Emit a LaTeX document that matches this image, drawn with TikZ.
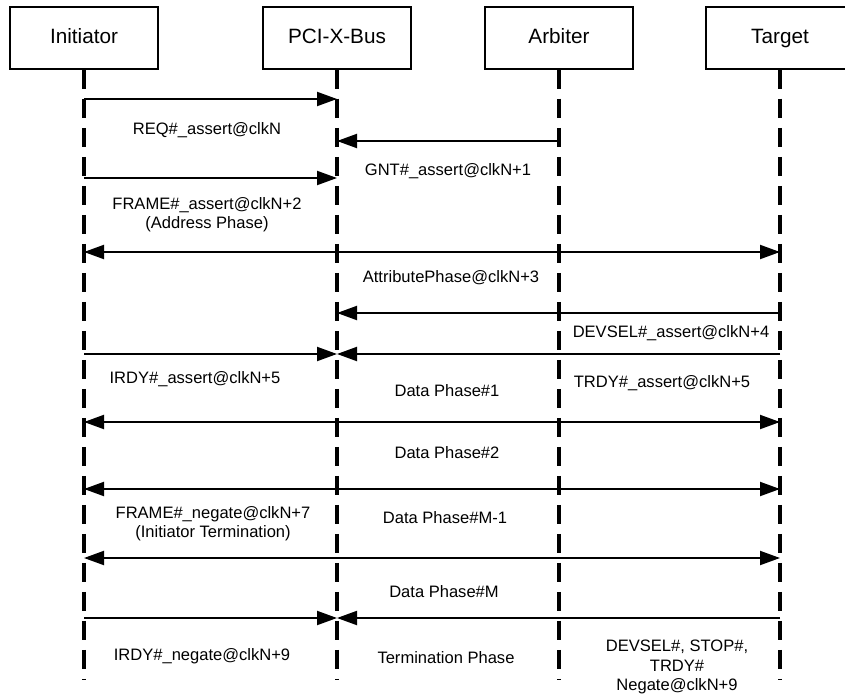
\documentclass[tikz,border=0pt]{standalone}
\usepackage{fontspec}
\setmainfont{Liberation Sans}
\usetikzlibrary{arrows.meta}
\begin{document}
\begin{tikzpicture}[x=1bp,y=-1bp,
  actor/.style={draw,line width=1.5bp,minimum width=148bp,minimum height=62bp,inner sep=0pt,
    text height=15bp,text depth=4bp,font=\fontsize{20.8}{24}\selectfont},
  life/.style={line width=3.2bp,dash pattern=on 19bp off 10bp},
  msg/.style={line width=2bp,-{Triangle[length=20bp,width=14bp]}},
  dmsg/.style={line width=2bp,{Triangle[length=20bp,width=14bp]}-{Triangle[length=20bp,width=14bp]}},
  lbl/.style={font=\fontsize{16.6}{19.5}\selectfont,align=center,inner sep=0pt}]
\useasboundingbox (0,0) rectangle (845,697);
% actors
\node[actor] (ini) at (84,38) {Initiator};
\node[actor] (pci) at (337,38) {PCI-X-Bus};
\node[actor] (arb) at (559,38) {Arbiter};
\node[actor] (tgt) at (780,38) {Target};
% lifeline ends
\coordinate (iniEnd) at (84,680);
\coordinate (pciEnd) at (337,680);
\coordinate (arbEnd) at (559,680);
\coordinate (tgtEnd) at (780,680);
\draw[life] (ini.south) -- (iniEnd);
\draw[life] (pci.south) -- (pciEnd);
\draw[life] (arb.south) -- (arbEnd);
\draw[life] (tgt.south) -- (tgtEnd);
% message rows
\coordinate (r1) at (0,99);
\coordinate (r2) at (0,141);
\coordinate (r3) at (0,178);
\coordinate (r4) at (0,252);
\coordinate (r5) at (0,313);
\coordinate (r6) at (0,354);
\coordinate (r7) at (0,422);
\coordinate (r8) at (0,489);
\coordinate (r9) at (0,558);
\coordinate (r10) at (0,618);
\draw[msg] (ini |- r1) -- (pci |- r1);
\draw[msg] (arb |- r2) -- (pci |- r2);
\draw[msg] (ini |- r3) -- (pci |- r3);
\draw[dmsg] (ini |- r4) -- (tgt |- r4);
\draw[msg] (tgt |- r5) -- (pci |- r5);
\draw[msg] (ini |- r6) -- (pci |- r6);
\draw[msg] (tgt |- r6) -- (pci |- r6);
\draw[dmsg] (ini |- r7) -- (tgt |- r7);
\draw[dmsg] (ini |- r8) -- (tgt |- r8);
\draw[dmsg] (ini |- r9) -- (tgt |- r9);
\draw[msg] (ini |- r10) -- (pci |- r10);
\draw[msg] (tgt |- r10) -- (pci |- r10);
% labels
\node[lbl] (t1) at (207,130) {REQ\#\_assert@clkN};
\node[lbl] (t2) at (448,171) {GNT\#\_assert@clkN+1};
\node[lbl] (t3) at (207,215) {FRAME\#\_assert@clkN+2\\(Address Phase)};
\node[lbl] (t4) at (451,278) {AttributePhase@clkN+3};
\node[lbl] (t5) at (671,333) {DEVSEL\#\_assert@clkN+4};
\node[lbl] (t6) at (195,379) {IRDY\#\_assert@clkN+5};
\node[lbl] (t7) at (662,383) {TRDY\#\_assert@clkN+5};
\node[lbl] (t8) at (447,391) {Data Phase\#1};
\node[lbl] (t9) at (447,453) {Data Phase\#2};
\node[lbl] (t10) at (213,524) {FRAME\#\_negate@clkN+7\\(Initiator Termination)};
\node[lbl] (t11) at (445,518) {Data Phase\#M-1};
\node[lbl] (t12) at (444,592) {Data Phase\#M};
\node[lbl] (t13) at (202,656) {IRDY\#\_negate@clkN+9};
\node[lbl] (t14) at (446,658) {Termination Phase};
\node[lbl] (t15) at (677,667) {DEVSEL\#, STOP\#,\\TRDY\#\\Negate@clkN+9};
\end{tikzpicture}
\end{document}
